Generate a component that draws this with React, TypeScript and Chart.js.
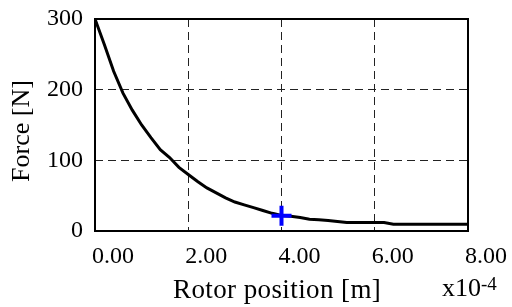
import React, { useEffect, useRef } from "react";
import { Chart, registerables } from "chart.js";

Chart.register(...registerables);

// Rotor position (x10^-4 m) and force (N)
const positions = [0, 0.2, 0.4, 0.6, 0.8, 1.0, 1.2, 1.4, 1.6, 1.8, 2.0, 2.2, 2.4, 2.6, 2.8, 3.0, 3.2, 3.4, 3.6, 3.8, 4.0, 4.2, 4.4, 4.6, 4.8, 5.0, 5.2, 5.4, 5.6, 5.8, 6.0, 6.2, 6.4, 6.8, 7.2, 7.6, 8.0];
const forces = [300, 264, 226, 195, 171, 150, 132, 115, 104, 90, 80, 70, 61, 54, 47, 41, 37, 33, 29, 25, 22, 21, 19, 16.5, 16, 15, 13.5, 12, 12, 12, 12, 12, 9.5, 9.5, 9.5, 9.5, 9.5];
const markerX = [4.0];
const markerY = [21.6];
const xTicks = [0, 2, 4, 6, 8];
const yTicks = [0, 100, 200, 300];
const xTitle = "Rotor position [m]";
const yTitle = "Force [N]";
const expBase = "x10";
const expPower = "-4";

const FONT = '"Liberation Serif", "Times New Roman", serif';

export default function App() {
  const ref = useRef<HTMLCanvasElement | null>(null);
  useEffect(() => {
    let chart: any = null;
    let cancelled = false;
    const framePlugin = {
      id: "frame",
      afterDraw(c: any) {
        const { ctx, chartArea } = c;
        ctx.save();
        ctx.strokeStyle = "#000";
        ctx.lineWidth = 2;
        ctx.setLineDash([]);
        ctx.strokeRect(chartArea.left, chartArea.top, chartArea.right - chartArea.left, chartArea.bottom - chartArea.top);
        ctx.fillStyle = "#000";
        ctx.font = `27px ${FONT}`;
        ctx.textBaseline = "alphabetic";
        ctx.textAlign = "left";
        try { (ctx as any).letterSpacing = "0.4px"; } catch (e) {}
        ctx.fillText(xTitle, 173, 298);
        try { (ctx as any).letterSpacing = "0px"; } catch (e) {}
        ctx.font = `26px ${FONT}`;
        const w = ctx.measureText(expBase).width;
        ctx.fillText(expBase, 442, 296);
        ctx.font = `19px ${FONT}`;
        ctx.fillText(expPower, 442 + w, 290);
        ctx.translate(22, 131);
        ctx.rotate(-Math.PI / 2);
        ctx.font = `26px ${FONT}`;
        ctx.textAlign = "center";
        ctx.textBaseline = "middle";
        ctx.fillText(yTitle, 0, 0);
        ctx.restore();
      },
    };
    const build = () => {
      if (cancelled || !ref.current) return;
      chart = new Chart(ref.current, {
        type: "scatter",
        data: {
          datasets: [
            {
              data: markerX.map((x, i) => ({ x, y: markerY[i] })),
              showLine: false,
              pointStyle: "cross",
              pointRadius: 10,
              pointBorderWidth: 4,
              pointBorderColor: "#0000ff",
              pointBackgroundColor: "#0000ff",
              order: 0,
            },
            {
              data: positions.map((x, i) => ({ x, y: forces[i] })),
              showLine: true,
              borderColor: "#000",
              borderWidth: 3,
              pointRadius: 0,
              tension: 0,
              order: 1,
            },
          ],
        },
        options: {
          responsive: false,
          animation: false,
          devicePixelRatio: 1,
          layout: { padding: { left: 0, right: 44, top: 19, bottom: 0 } },
          plugins: { legend: { display: false }, tooltip: { enabled: false } },
          scales: {
            x: {
              type: "linear",
              min: 0,
              max: 8,
              afterFit(scale: any) { scale.height = 76; },
              afterBuildTicks(scale: any) { scale.ticks = xTicks.map((v) => ({ value: v })); },
              ticks: {
                font: { family: FONT, size: 24 },
                color: "#000",
                padding: 11,
                labelOffset: 18,
                maxRotation: 0,
                autoSkip: false,
                callback: (v: any) => Number(v).toFixed(2),
              },
              border: { display: false, dash: [8, 5] },
              grid: {
                drawTicks: false,
                color: (c: any) => (c.tick && (c.tick.value === 0 || c.tick.value === 8) ? "rgba(0,0,0,0)" : "#222"),
                lineWidth: 1,
              },
            },
            y: {
              type: "linear",
              min: 0,
              max: 300,
              afterFit(scale: any) { scale.width = 95; scale.paddingTop = 0; scale.paddingBottom = 0; },
              afterBuildTicks(scale: any) { scale.ticks = yTicks.map((v) => ({ value: v })); },
              ticks: {
                font: { family: FONT, size: 24 },
                color: "#000",
                padding: 12,
                autoSkip: false,
              },
              border: { display: false, dash: [8, 5] },
              grid: {
                drawTicks: false,
                color: (c: any) => (c.tick && (c.tick.value === 0 || c.tick.value === 300) ? "rgba(0,0,0,0)" : "#222"),
                lineWidth: 1,
              },
            },
          },
        },
        plugins: [framePlugin],
      } as any);
    };
    const fonts: any = (document as any).fonts;
    if (fonts && fonts.load) {
      Promise.all([
        fonts.load('24px "Liberation Serif"'),
        fonts.load('18px "Liberation Serif"'),
      ]).then(build, build);
    } else {
      build();
    }
    return () => {
      cancelled = true;
      if (chart) chart.destroy();
    };
  }, []);
  return (
    <div style={{ position: "absolute", left: 0, top: 0, width: 512, height: 307, background: "#fff" }}>
      <canvas ref={ref} width={512} height={307} style={{ width: 512, height: 307, display: "block" }} />
    </div>
  );
}
